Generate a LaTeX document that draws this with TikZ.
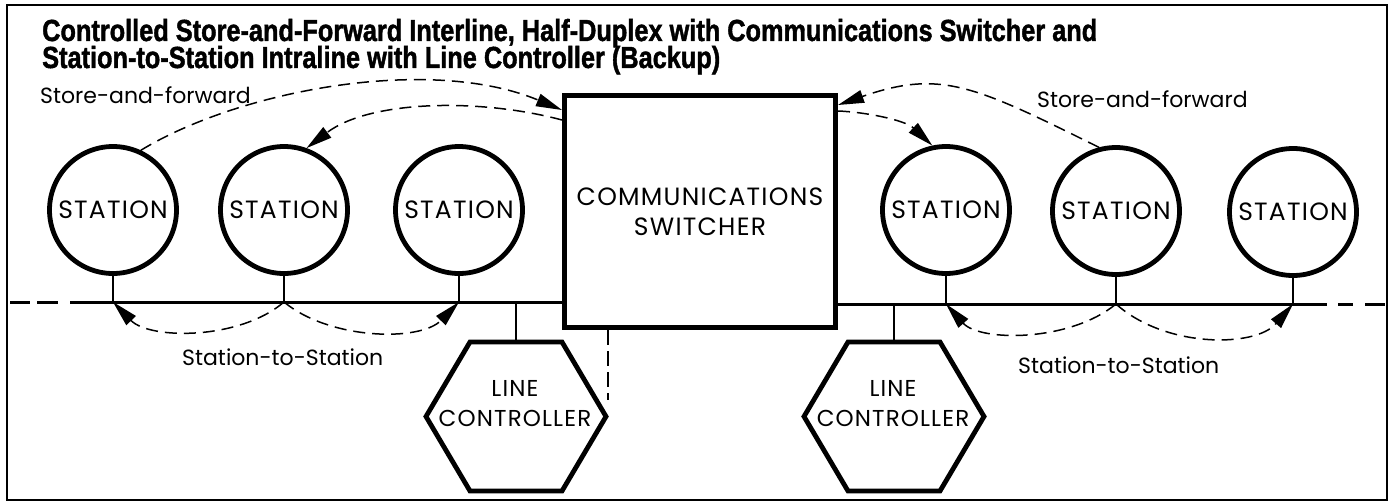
\documentclass[tikz,border=0pt]{standalone}
\usepackage{fontspec}
\usepackage{graphicx}
\setmainfont{Liberation Sans}
\newfontfamily\titlefont[BoldFeatures={FakeBold=1.6}]{Liberation Sans}
\newfontfamily\labfont{Poppins}
\newfontfamily\capfont[LetterSpace=5]{Poppins}
\usetikzlibrary{arrows.meta,calc}
\begin{document}
\begin{tikzpicture}[x=1pt,y=-1pt,
  frame/.style={line width=1.4pt},
  station/.style={circle,draw,line width=4.8pt,minimum size=127pt,inner sep=0pt,font=\capfont\fontsize{25}{25}\selectfont},
  switcher/.style={rectangle,draw,line width=5pt,minimum width=271pt,minimum height=232pt,align=center,inner sep=0pt,font=\capfont\fontsize{25}{30}\selectfont},
  bus/.style={line width=3pt},
  stem/.style={line width=2pt},
  hexline/.style={line width=4.8pt,line join=miter},
  lctext/.style={align=center,inner sep=0pt,font=\capfont\fontsize{23}{30}\selectfont},
  flow/.style={line width=1.5pt,dash pattern=on 12pt off 7pt,-{Triangle[length=26pt,width=13pt]}},
  lbl/.style={anchor=base west,inner sep=0pt,font=\labfont\fontsize{22}{22}\selectfont},
  ttl/.style={anchor=base west,inner sep=0pt},
  backup/.style={line width=1.3pt,dash pattern=on 15pt off 6pt}
]
\useasboundingbox (0,0) rectangle (1395,503);
\fill[white] (0,0) rectangle (1395,503);
\draw[frame] (7,5) rectangle (1387,500);

% title
\node[ttl] (t1) at (42,41) {\resizebox{1055pt}{\height}{\titlefont\bfseries\fontsize{30.5}{30.5}\selectfont Controlled Store-and-Forward Interline, Half-Duplex with Communications Switcher and}};
\node[ttl] (t2) at (42,68) {\resizebox{678pt}{\height}{\titlefont\bfseries\fontsize{30.5}{30.5}\selectfont Station-to-Station Intraline with Line Controller (Backup)}};

% stations and switcher
\node[station] (s1) at (113,210) {STATION};
\node[station] (s2) at (284,210) {STATION};
\node[station] (s3) at (459,210) {STATION};
\node[station] (s4) at (946,210) {STATION};
\node[station] (s5) at (1116,211) {STATION};
\node[station] (s6) at (1293,212) {STATION};
\node[switcher] (sw) at (700,211.5) {COMMUNICATIONS\\SWITCHER};

% bus lines
\coordinate (busL) at (70,302);
\coordinate (busR) at (1327,304);
\draw[bus] (busL) -- (busL -| sw.west);
\draw[bus] (10,302) -- (30,302) (37,302) -- (58,302);
\draw[bus] (busR -| sw.east) -- (busR);
\draw[bus] (1338,304) -- (1353,304) (1365,304) -- (1385,304);

\coordinate (j1) at (s1 |- busL);
\coordinate (j2) at (s2 |- busL);
\coordinate (j3) at (s3 |- busL);
\coordinate (j4) at (s4 |- busR);
\coordinate (j5) at (s5 |- busR);
\coordinate (j6) at (s6 |- busR);
\foreach \s/\j in {s1/j1,s2/j2,s3/j3,s4/j4,s5/j5,s6/j6}
  \draw[stem] (\s) -- (\j);

% line controllers
\coordinate (lc1) at (516,416.5);
\coordinate (lc2) at (894,416.5);
\foreach \c in {lc1,lc2}{
  \draw[hexline] ($(\c)+(-90,0)$) -- ++(44,-74.5) -- ++(92,0) -- ++(44,74.5) -- ++(-44,74.5) -- ++(-92,0) -- cycle;
}
\coordinate (lc1top) at ($(lc1)+(0,-74.5)$);
\coordinate (lc2top) at ($(lc2)+(0,-74.5)$);
\node[lctext] (lc1t) at ($(lc1)+(-1,-13)$) {LINE\\CONTROLLER};
\node[lctext] (lc2t) at ($(lc2)+(-1,-13)$) {LINE\\CONTROLLER};
\draw[stem] (lc1top |- busL) -- (lc1top);
\draw[stem] (lc2top |- busR) -- (lc2top);

% backup dashed line
\coordinate (bk) at (608,400);
\draw[backup] (bk |- sw.south) -- (bk);

% store-and-forward flows
\draw[flow] (s1.65) .. controls (240,90) and (430,55) .. ($(sw.north west)+(0,17)$);
\draw[flow] ($(sw.north west)+(0,27)$) .. controls (480,98) and (370,100) .. (s2.70);
\draw[flow] (s5.105) .. controls (975,86) and (941,69) .. ($(sw.north east)+(0,12)$);
\draw[flow] ($(sw.north east)+(0,18)$) .. controls (865,112) and (905,120) .. (s4.102);

% station-to-station flows
\draw[flow] (j2) .. controls (240,340) and (150,340) .. (j1);
\draw[flow] (j2) .. controls (330,340) and (420,342) .. (j3);
\draw[flow] (j5) .. controls (1070,342) and (980,342) .. (j4);
\draw[flow] (j5) .. controls (1165,348) and (1255,348) .. (j6);

% labels
\node[lbl] (lsf1) at (40,103) {Store-and-forward};
\node[lbl] (lsf2) at (1037,107) {Store-and-forward};
\node[lbl] (lss1) at (182,365) {Station-to-Station};
\node[lbl] (lss2) at (1018,373) {Station-to-Station};
\end{tikzpicture}
\end{document}
